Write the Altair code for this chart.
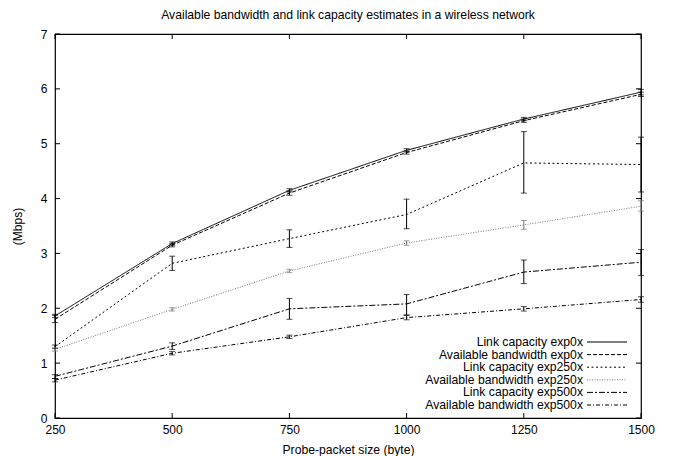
import altair as alt
import pandas as pd

# ---- data ----
x_sizes = [250, 500, 750, 1000, 1250, 1500]
y_ticks = [0, 1, 2, 3, 4, 5, 6, 7]

series_names = [
    "Link capacity exp0x",
    "Available bandwidth exp0x",
    "Link capacity exp250x",
    "Available bandwidth exp250x",
    "Link capacity exp500x",
    "Available bandwidth exp500x",
]

lc0 = [1.86, 3.18, 4.15, 4.88, 5.45, 5.94]
lc0_lo = [1.83, 3.15, 4.12, 4.85, 5.42, 5.89]
lc0_hi = [1.89, 3.21, 4.18, 4.91, 5.48, 5.99]

ab0 = [1.80, 3.15, 4.10, 4.84, 5.42, 5.90]
ab0_lo = [1.74, 3.12, 4.06, 4.81, 5.39, 5.86]
ab0_hi = [1.87, 3.18, 4.14, 4.87, 5.45, 5.94]

lc250 = [1.30, 2.82, 3.27, 3.71, 4.65, 4.62]
lc250_lo = [1.27, 2.69, 3.11, 3.45, 4.10, 4.12]
lc250_hi = [1.33, 2.95, 3.43, 3.99, 5.22, 5.12]

ab250 = [1.25, 1.98, 2.68, 3.19, 3.52, 3.86]
ab250_lo = [1.22, 1.95, 2.65, 3.15, 3.44, 3.77]
ab250_hi = [1.28, 2.01, 2.71, 3.23, 3.60, 3.96]

lc500 = [0.76, 1.31, 1.99, 2.08, 2.66, 2.84]
lc500_lo = [0.72, 1.25, 1.80, 1.88, 2.45, 2.60]
lc500_hi = [0.79, 1.37, 2.18, 2.25, 2.88, 3.07]

ab500 = [0.69, 1.18, 1.48, 1.83, 1.99, 2.16]
ab500_lo = [0.66, 1.15, 1.45, 1.79, 1.95, 2.11]
ab500_hi = [0.72, 1.21, 1.51, 1.87, 2.03, 2.21]

# ---- styles ----
dashes = [[1, 0], [4, 2], [2, 2.5], [1, 1.5], [6, 2, 2, 2], [4, 2, 1, 2]]
colors = ["#000000", "#000000", "#000000", "#777777", "#000000", "#000000"]

vals = [lc0, ab0, lc250, ab250, lc500, ab500]
los = [lc0_lo, ab0_lo, lc250_lo, ab250_lo, lc500_lo, ab500_lo]
his = [lc0_hi, ab0_hi, lc250_hi, ab250_hi, lc500_hi, ab500_hi]

rows = []
for name, v, lo, hi in zip(series_names, vals, los, his):
    for xs, a, b, c in zip(x_sizes, v, lo, hi):
        rows.append({"series": name, "size": xs, "val": a, "lo": b, "hi": c})
df = pd.DataFrame(rows)

W, H = 586, 384
FONT = "Liberation Sans"

xscale = alt.Scale(domain=[250, 1500], nice=False, zero=False)
yscale = alt.Scale(domain=[0, 7], nice=False, zero=False)
dash_enc = alt.StrokeDash("series:N", scale=alt.Scale(domain=series_names, range=dashes), legend=None)
color_enc = alt.Color("series:N", scale=alt.Scale(domain=series_names, range=colors), legend=None)

xaxis = alt.Axis(values=x_sizes, format="d", ticks=False, domain=False, grid=False, labelFlush=False,
                 labelPadding=6, labelFontSize=12, labelFont=FONT, labelColor="black",
                 title="Probe-packet size (byte)", titleFont=FONT, titleFontSize=12.2,
                 titleFontWeight="normal", titleColor="black", titleY=35, titleBaseline="alphabetic")
yaxis = alt.Axis(values=y_ticks, format="d", ticks=False, domain=False, grid=False, tickSize=0,
                 labelFlush=False,
                 labelPadding=8, labelFontSize=12, labelFont=FONT, labelColor="black",
                 title="(Mbps)", titleFont=FONT, titleFontSize=12, titleFontWeight="normal",
                 titleColor="black", titleX=-31, titleY=H / 2)

base = alt.Chart(df)
lines = base.mark_line(strokeWidth=1).encode(
    x=alt.X("size:Q", scale=xscale, axis=xaxis),
    y=alt.Y("val:Q", scale=yscale, axis=yaxis),
    strokeDash=dash_enc,
    color=color_enc,
)
errs = base.mark_rule(strokeWidth=1).encode(
    x=alt.X("size:Q"), y=alt.Y("lo:Q"), y2="hi:Q", color=color_enc
)
cap_lo = base.mark_tick(orient="horizontal", size=6, thickness=1).encode(
    x=alt.X("size:Q"), y=alt.Y("lo:Q"), color=color_enc
)
cap_hi = base.mark_tick(orient="horizontal", size=6, thickness=1).encode(
    x=alt.X("size:Q"), y=alt.Y("hi:Q"), color=color_enc
)

xt = alt.Chart(pd.DataFrame({"t": x_sizes}))
yt = alt.Chart(pd.DataFrame({"t": y_ticks}))
tk = dict(color="black", strokeWidth=1)
tick_b = xt.mark_rule(**tk).encode(x="t:Q", y=alt.value(H), y2=alt.value(H - 5))
tick_t = xt.mark_rule(**tk).encode(x="t:Q", y=alt.value(0), y2=alt.value(5))
tick_l = yt.mark_rule(**tk).encode(y="t:Q", x=alt.value(0), x2=alt.value(5))
tick_r = yt.mark_rule(**tk).encode(y="t:Q", x=alt.value(W), x2=alt.value(W - 5))

main = alt.layer(lines, errs, cap_lo, cap_hi, tick_b, tick_t, tick_l, tick_r)

leg_df = pd.DataFrame({"series": series_names})
leg_y = alt.Y("series:N", scale=alt.Scale(type="point", domain=series_names, range=[308, 371], padding=0), axis=None)
leg_text = alt.Chart(leg_df).mark_text(align="right", baseline="middle", font=FONT, fontSize=12.2, color="black").encode(
    x=alt.value(528), y=leg_y, text="series:N"
)
leg_line = alt.Chart(leg_df).mark_rule(strokeWidth=1).encode(
    x=alt.value(532), x2=alt.value(572), y=leg_y, strokeDash=dash_enc, color=color_enc
)
legend = alt.layer(leg_text, leg_line)

chart = alt.layer(main, legend).resolve_scale(y="independent").properties(
    width=W, height=H,
    title=alt.TitleParams("Available bandwidth and link capacity estimates in a wireless network",
                          font=FONT, fontSize=12.2, fontWeight="normal", color="black",
                          anchor="middle", offset=-3, baseline="alphabetic"),
    autosize=alt.AutoSizeParams(type="none"),
    padding={"left": 47, "top": 26, "right": 25, "bottom": 40},
).configure_view(stroke="black", strokeWidth=1.2)

chart.save("out.html", embed_options={"renderer": "svg", "actions": False})
